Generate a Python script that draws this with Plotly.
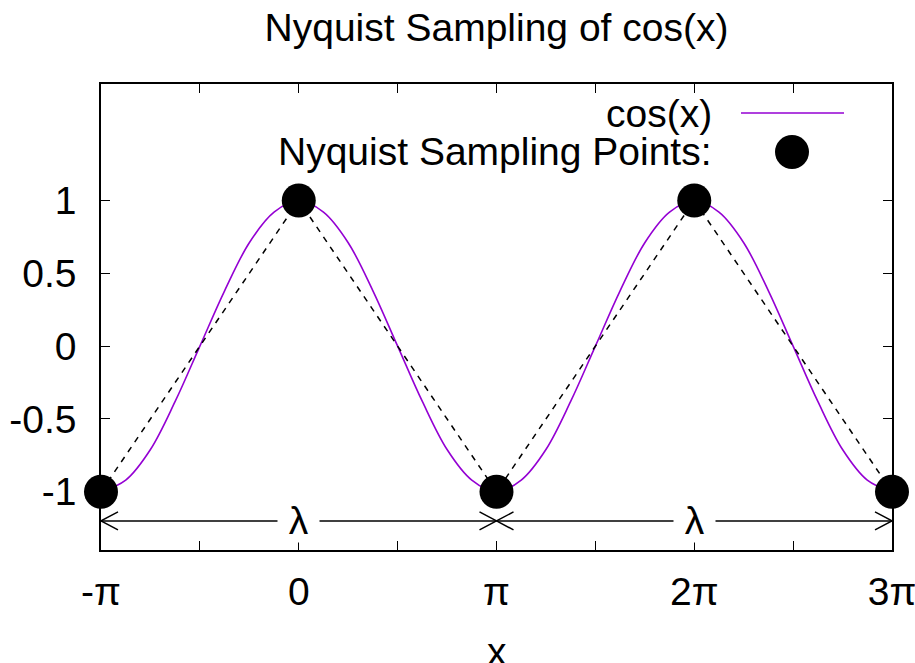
import numpy as np
import plotly.graph_objects as go

PI = np.pi

# ---- data (x in units of pi) ----
COS_X_PI = list(np.arange(-1.0, 3.0 + 1e-9, 0.125))
COS_Y = [-1, -0.92, -0.71, -0.38, 0, 0.38, 0.71, 0.92,
         1, 0.92, 0.71, 0.38, 0, -0.38, -0.71, -0.92,
         -1, -0.92, -0.71, -0.38, 0, 0.38, 0.71, 0.92,
         1, 0.92, 0.71, 0.38, 0, -0.38, -0.71, -0.92, -1]
SAMPLE_X_PI = [-1, 0, 1, 2, 3]
SAMPLE_Y = [-1, 1, -1, 1, -1]
ARROW_SPANS_PI = [(-1, 1), (1, 3)]
ARROW_Y = -1.2
ARROW_LABEL = "λ"
X_TICKS_PI = [-1, 0, 1, 2, 3]
X_TICK_LABELS = ["-π", "0", "π", "2π", "3π"]
X_MINOR_PI = [-0.5, 0.5, 1.5, 2.5]
Y_TICKS = [-1, -0.5, 0, 0.5, 1]
Y_TICK_LABELS = ["-1", "-0.5", "0", "0.5", "1"]
X_RANGE_PI = [-1, 3]
Y_RANGE = [-1.4, 1.8]
TITLE = "Nyquist Sampling of cos(x)"
X_TITLE = "x"
LEGEND_LABELS = ["cos(x)", "Nyquist Sampling Points:"]

# ---- layout geometry ----
W, H = 915, 663
ML, MR, MT, MB = 101, 23, 84, 113
PW, PH = W - ML - MR, H - MT - MB
FONT = "Liberation Sans"
FS = 39
PURPLE = "#9400D3"

x_range = [v * PI for v in X_RANGE_PI]
dx_per_px = (x_range[1] - x_range[0]) / PW
dy_per_px = (Y_RANGE[1] - Y_RANGE[0]) / PH

fig = go.Figure()

# cos(x) curve
fig.add_trace(go.Scatter(
    x=[v * PI for v in COS_X_PI], y=COS_Y, mode="lines",
    line=dict(color=PURPLE, width=1.6, shape="spline", smoothing=1.0),
    name=LEGEND_LABELS[0], showlegend=False, hoverinfo="skip"))

# dashed connecting line
fig.add_trace(go.Scatter(
    x=[v * PI for v in SAMPLE_X_PI], y=SAMPLE_Y, mode="lines",
    line=dict(color="black", width=1.5, dash="6px,6px"),
    showlegend=False, hoverinfo="skip"))

# arrows (double headed, open V heads)
head_len, head_half = 17, 9
ax, ay = [], []
for a, b in ARROW_SPANS_PI:
    x0, x1 = a * PI, b * PI
    ax += [x0, x1, None]
    ay += [ARROW_Y, ARROW_Y, None]
    for xe, sgn in ((x0, 1), (x1, -1)):
        ax += [xe + sgn * head_len * dx_per_px, xe, xe + sgn * head_len * dx_per_px, None]
        ay += [ARROW_Y + head_half * dy_per_px, ARROW_Y, ARROW_Y - head_half * dy_per_px, None]
fig.add_trace(go.Scatter(x=ax, y=ay, mode="lines",
                         line=dict(color="black", width=1.5),
                         showlegend=False, hoverinfo="skip"))

# sampling points
fig.add_trace(go.Scatter(
    x=[v * PI for v in SAMPLE_X_PI], y=SAMPLE_Y, mode="markers",
    marker=dict(color="black", size=34, line=dict(width=0)),
    name=LEGEND_LABELS[1], showlegend=False, hoverinfo="skip", cliponaxis=False))

# lambda labels
for a, b in ARROW_SPANS_PI:
    fig.add_annotation(x=(a + b) / 2 * PI, y=ARROW_Y, text=" " + ARROW_LABEL + " ",
                       showarrow=False, bgcolor="white", borderpad=0,
                       font=dict(family=FONT, size=FS, color="black"),
                       xanchor="center", yanchor="middle")

# manual gnuplot-style key
key_right = (714 - ML) / PW
key_y = [(MT + PH - 113) / PH, (MT + PH - 152) / PH]
for lab, yy in zip(LEGEND_LABELS, key_y):
    fig.add_annotation(xref="paper", yref="paper", x=key_right, y=yy, text=lab,
                       showarrow=False, xanchor="right", yanchor="middle",
                       font=dict(family=FONT, size=FS, color="black"))
fig.add_shape(type="line", xref="paper", yref="paper",
              x0=(741 - ML) / PW, x1=(844 - ML) / PW, y0=key_y[0], y1=key_y[0],
              line=dict(color=PURPLE, width=1.6))
fig.add_shape(type="circle", xref="paper", yref="paper",
              xsizemode="pixel", ysizemode="pixel",
              xanchor=(792 - ML) / PW, yanchor=key_y[1],
              x0=-17, x1=17, y0=-17, y1=17,
              fillcolor="black", line=dict(width=0))

# x axis title (gnuplot places it near the bottom edge)
fig.add_annotation(xref="paper", yref="paper", x=0.5, y=(MT + PH - 651) / PH,
                   text=X_TITLE, showarrow=False, xanchor="center", yanchor="middle",
                   font=dict(family=FONT, size=FS, color="black"))

axis_common = dict(showgrid=False, zeroline=False, showline=True, linecolor="black",
                   linewidth=1.5, mirror="allticks", ticks="inside", ticklen=9,
                   tickwidth=1, tickcolor="black", ticklabeloverflow="allow",
                   tickfont=dict(family=FONT, size=FS, color="black"))

fig.update_xaxes(range=x_range, tickmode="array",
                 tickvals=[v * PI for v in X_TICKS_PI], ticktext=X_TICK_LABELS,
                 minor=dict(tickvals=[v * PI for v in X_MINOR_PI], ticks="inside",
                            ticklen=9, tickwidth=1, tickcolor="black", showgrid=False),
                 ticklabelstandoff=6, **axis_common)
fig.update_yaxes(range=Y_RANGE, tickmode="array", tickvals=Y_TICKS, ticktext=Y_TICK_LABELS,
                 ticklabelstandoff=15, **axis_common)

fig.update_layout(
    width=W, height=H,
    margin=dict(l=ML, r=MR, t=MT, b=MB, autoexpand=False),
    paper_bgcolor="white", plot_bgcolor="white",
    title=dict(text=TITLE, x=(ML + PW / 2) / W, xanchor="center",
               y=1 - 27 / H, yanchor="middle", yref="container",
               font=dict(family=FONT, size=FS, color="black")),
    showlegend=False,
)

fig.write_html("out.html", config={"displayModeBar": False},
               post_script="document.body.style.margin='0';document.body.style.overflow='hidden';")
